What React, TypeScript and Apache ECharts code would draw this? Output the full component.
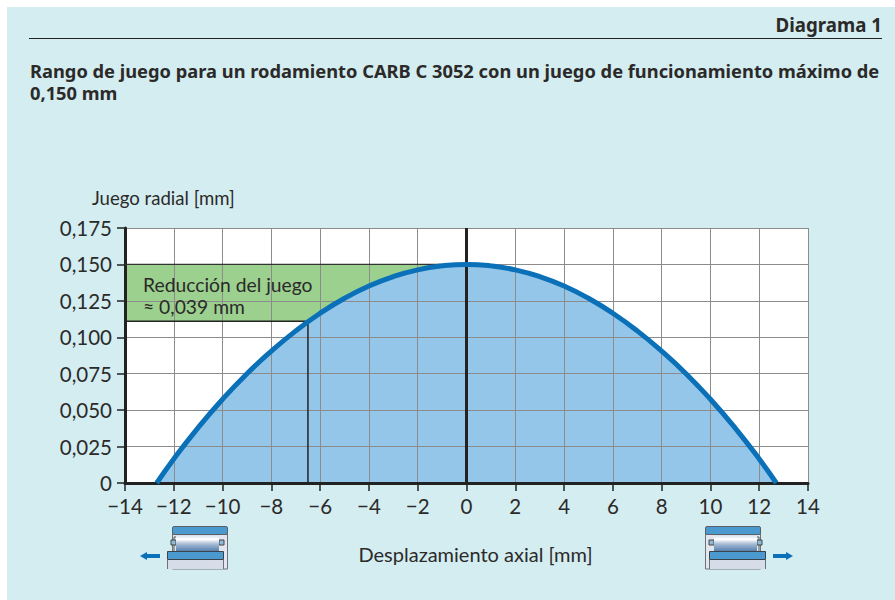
import React, { useEffect, useRef } from "react";
import * as echarts from "echarts";

const curveX = [-12.7, -12, -11, -10, -9, -8, -7, -6, -5, -4, -3, -2, -1, 0, 1, 2, 3, 4, 5, 6, 7, 8, 9, 10, 11, 12, 12.7];
const curveY = [0, 0.0165, 0.038, 0.0575, 0.075, 0.0905, 0.1044, 0.1165, 0.1268, 0.1352, 0.1417, 0.1463, 0.149, 0.15, 0.149, 0.1463, 0.1417, 0.1352, 0.1268, 0.1165, 0.1044, 0.0905, 0.075, 0.0575, 0.038, 0.0165, 0];
const reductionX = [-14, 0];
const topClearance = 0.15;
const reducedClearance = 0.111;
const reducedAt = -6.5;
const xMin = -14, xMax = 14, xStep = 2;
const yMin = 0, yMax = 0.175, yStep = 0.025;

const TITLE = "Rango de juego para un rodamiento CARB C 3052 con un juego de funcionamiento máximo de\n0,150 mm";
const FONT = "Lato";
const BOLD_FONT = "Noto Sans";
const INK = "#2b2a29";
const BLUE = "#0a70b8";

function bearing(mirrorX: number | null) {
  const children: any[] = [
    { type: "rect", shape: { x: 172.5, y: 530, width: 55, height: 39 }, style: { fill: "#e3e6ee", stroke: "#6d7278", lineWidth: 1 } },
    { type: "rect", shape: { x: 174, y: 537, width: 5, height: 15 }, style: { fill: "#dfe6ee", stroke: "#555", lineWidth: 1 } },
    { type: "rect", shape: { x: 171, y: 540, width: 5, height: 5 }, style: { fill: "#8fb9d8", stroke: "#444", lineWidth: 1 } },
    { type: "rect", shape: { x: 219, y: 540, width: 5, height: 5 }, style: { fill: "#8fb9d8", stroke: "#444", lineWidth: 1 } },
    {
      type: "rect", shape: { x: 176, y: 534, width: 43, height: 18 },
      style: {
        fill: new echarts.graphic.LinearGradient(0, 0, 0, 1, [
          { offset: 0, color: "#c9d6e8" }, { offset: 0.3, color: "#ffffff" }, { offset: 0.55, color: "#a9bcd6" }, { offset: 1, color: "#4b78a8" },
        ]),
      },
    },
    { type: "rect", shape: { x: 172.5, y: 526.5, width: 55, height: 8, r: 1.5 }, style: { fill: "#4a9ad0", stroke: "#5a6066", lineWidth: 1 } },
    { type: "rect", shape: { x: 167, y: 560, width: 57, height: 9 }, style: { fill: "#d7dce9" } },
    { type: "line", shape: { x1: 167.5, y1: 560, x2: 167.5, y2: 569 }, style: { stroke: "#6d7278", lineWidth: 1 } },
    { type: "line", shape: { x1: 223.5, y1: 560, x2: 223.5, y2: 569 }, style: { stroke: "#6d7278", lineWidth: 1 } },
    { type: "rect", shape: { x: 167.5, y: 551.5, width: 56, height: 8 }, style: { fill: "#4a9ad0", stroke: "#3c4248", lineWidth: 1 } },
    { type: "polygon", shape: { points: [[160, 554], [147, 554], [147, 552], [140, 556], [147, 560], [147, 558], [160, 558]] }, style: { fill: BLUE } },
  ];
  return mirrorX === null
    ? { type: "group", children }
    : { type: "group", x: mirrorX, scaleX: -1, children };
}

export default function App() {
  const ref = useRef<HTMLDivElement>(null);
  useEffect(() => {
    const chart = echarts.init(ref.current!, null, { renderer: "svg" });
    const curve = curveX.map((x, i) => [x, curveY[i]]);
    chart.setOption({
      animation: false,
      textStyle: { fontFamily: FONT },
      grid: { left: 125, right: 87, top: 228, bottom: 117, show: true, backgroundColor: "#ffffff", borderWidth: 0 },
      xAxis: {
        type: "value", min: xMin, max: xMax, interval: xStep, z: 3,
        name: "Desplazamiento axial [mm]", nameLocation: "middle", nameGap: 61,
        nameTextStyle: { fontFamily: FONT, fontSize: 20, color: INK, padding: [0, 0, 0, 18] },
        axisLine: { onZero: false, lineStyle: { color: "#222", width: 3 } },
        axisTick: { length: 8, lineStyle: { color: "#222", width: 1.5 } },
        axisLabel: { fontFamily: FONT, fontSize: 20.5, color: INK, margin: 12, formatter: (v: number) => String(v).replace("-", "\u2212") },
        splitLine: { show: true, lineStyle: { color: "#8c8c8c", width: 1 } },
      },
      yAxis: {
        type: "value", min: yMin, max: yMax, interval: yStep, z: 3,
        name: "Juego radial [mm]", nameLocation: "end", nameGap: 21,
        nameTextStyle: { fontFamily: FONT, fontSize: 18.6, color: INK, align: "left", padding: [0, 0, 0, -33] },
        axisLine: { onZero: false, lineStyle: { color: "#222", width: 3 } },
        axisTick: { length: 8, lineStyle: { color: "#222", width: 1.5 } },
        axisLabel: { fontFamily: FONT, fontSize: 20.5, color: INK, margin: 13, formatter: (v: number) => (v === 0 ? "0" : v.toFixed(3).replace(".", ",")) },
        splitLine: { show: true, lineStyle: { color: "#8c8c8c", width: 1 } },
      },
      series: [
        {
          name: "Reducción", type: "line", z: 1, symbol: "none", silent: true,
          data: reductionX.map((x) => [x, topClearance]),
          lineStyle: { width: 0 },
          areaStyle: { color: "#9bd08f", opacity: 1, origin: reducedClearance },
        },
        {
          name: "Relleno", type: "line", z: 2, symbol: "none", smooth: 0.5, silent: true,
          data: curve, lineStyle: { width: 0 },
          areaStyle: { color: "#94c6ea", opacity: 1, origin: 0 },
        },
        {
          name: "Tope", type: "line", z: 4, symbol: "none", silent: true,
          data: reductionX.map((x) => [x, topClearance]),
          lineStyle: { color: "#333", width: 1.2 },
        },
        {
          name: "Juego reducido", type: "line", z: 4, symbol: "none", silent: true,
          data: [[xMin, reducedClearance], [reducedAt, reducedClearance], [reducedAt, yMin]],
          lineStyle: { color: "#222", width: 1.5 },
        },
        {
          name: "Eje central", type: "line", z: 4, symbol: "none", silent: true,
          data: [[0, yMin], [0, yMax]],
          lineStyle: { color: "#222", width: 3 },
        },
        {
          name: "Juego radial", type: "line", z: 5, symbol: "none", smooth: 0.5, silent: true,
          data: curve, lineStyle: { color: BLUE, width: 5 },
        },
      ],
      graphic: [
        { type: "rect", z: -10, shape: { x: 7, y: 7, width: 888, height: 593 }, style: { fill: "#d4edf1" } },
        { type: "text", z: 10, x: 882, y: 24, style: { text: "Diagrama 1", fontFamily: BOLD_FONT, fontWeight: "bold", fontSize: 18.7, fill: INK, align: "right", verticalAlign: "middle" } },
        { type: "line", z: 10, shape: { x1: 29, y1: 38.5, x2: 882, y2: 38.5 }, style: { stroke: "#222", lineWidth: 1 } },
        { type: "text", z: 10, x: 30, y: 59, style: { text: TITLE, fontFamily: BOLD_FONT, fontWeight: "bold", fontSize: 18.3, lineHeight: 22, fill: INK, verticalAlign: "top" } },
        { type: "text", z: 10, x: 143, y: 284, style: { text: "Reducción del juego", fontFamily: FONT, fontSize: 19.3, fill: INK, verticalAlign: "middle" } },
        { type: "text", z: 10, x: 143, y: 306, style: { text: "≈ 0,039 mm", fontFamily: FONT, fontSize: 19.3, fill: INK, verticalAlign: "middle" } },
        bearing(null),
        bearing(933),
      ],
    });
    return () => chart.dispose();
  }, []);
  return <div ref={ref} style={{ position: "fixed", left: 0, top: 0, width: 895, height: 600, background: "#fff" }} />;
}
